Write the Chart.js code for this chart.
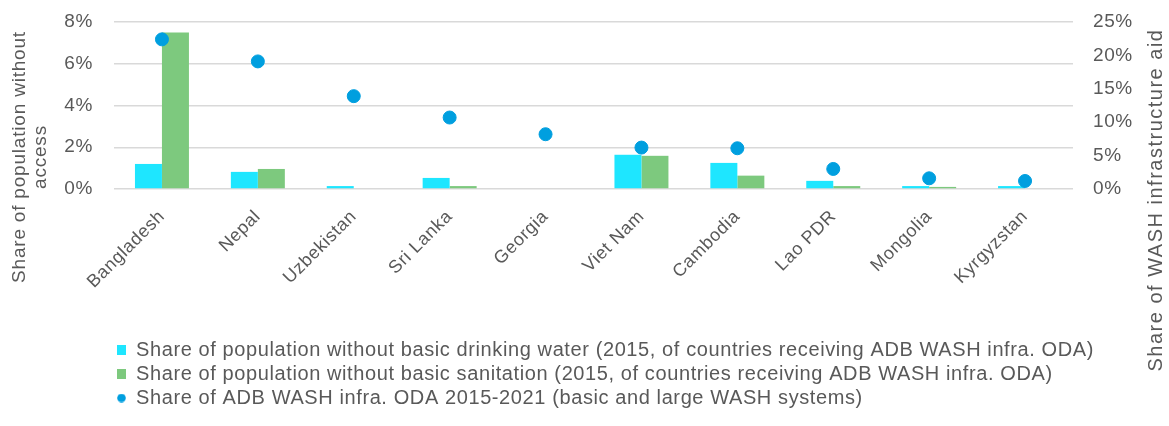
<!DOCTYPE html>
<html>
<head>
<meta charset="utf-8">
<script src="https://cdn.jsdelivr.net/npm/chart.js@4.4.1/dist/chart.umd.min.js"></script>
<style>
  html, body { margin: 0; padding: 0; background: #ffffff; }
  #wrap { width: 1169px; height: 426px; position: relative; }
</style>
</head>
<body>
<div id="wrap"><canvas id="c" width="1169" height="426"></canvas></div>
<script>
const categories = ["Bangladesh", "Nepal", "Uzbekistan", "Sri Lanka", "Georgia", "Viet Nam", "Cambodia", "Lao PDR", "Mongolia", "Kyrgyzstan"];
const drinkingWater = [1.20, 0.82, 0.14, 0.53, 0.00, 1.64, 1.25, 0.39, 0.14, 0.14];
const sanitation = [7.50, 0.96, 0.00, 0.14, 0.00, 1.59, 0.64, 0.14, 0.10, 0.00];
const odaShare = [22.4, 19.1, 13.9, 10.7, 8.2, 6.2, 6.1, 3.0, 1.6, 1.2];
const leftTicks = [0, 2, 4, 6, 8];
const rightTicks = [0, 5, 10, 15, 20, 25];
const seriesLabels = [
  "Share of population without basic drinking water (2015, of countries receiving ADB WASH infra. ODA)",
  "Share of population without basic sanitation (2015, of countries receiving ADB WASH infra. ODA)",
  "Share of ADB WASH infra. ODA 2015-2021 (basic and large WASH systems)"
];
const leftTitle = ["Share of population without", "access"];
const rightTitle = "Share of WASH infrastructure aid";

const FONT = "'Liberation Sans', Arial, sans-serif";
const TXT = "#595959";
const C_WATER = "#1EE6FF";
const C_SAN = "#7DC97E";
const C_ODA = "#009FDF";
const SPACING = '0.6px';

function markerCanvas(kind, color) {
  const cv = document.createElement('canvas');
  cv.width = 9; cv.height = kind === 'rect' ? 10 : 9;
  const g = cv.getContext('2d');
  g.fillStyle = color;
  if (kind === 'rect') g.fillRect(0, 0, 9, 10);
  else { g.beginPath(); g.arc(4.5, 4.5, 4.3, 0, Math.PI * 2); g.fill(); }
  return cv;
}
const markers = [markerCanvas('rect', C_WATER), markerCanvas('rect', C_SAN), markerCanvas('circle', C_ODA)];

const textSpacing = {
  id: 'textSpacing',
  beforeLayout(chart) { chart.ctx.letterSpacing = SPACING; },
  afterLayout(chart) { if (chart.legend) { chart.legend.left = 113; } },
  beforeDraw(chart) { chart.ctx.letterSpacing = SPACING; }
};

const axisTitles = {
  id: 'axisTitles',
  afterDraw(chart) {
    const ctx = chart.ctx;
    ctx.save();
    ctx.fillStyle = TXT;
    ctx.textAlign = 'center';
    ctx.textBaseline = 'middle';
    ctx.font = "19px " + FONT;
    ctx.letterSpacing = '0.8px';
    ctx.save();
    ctx.translate(20, 157);
    ctx.rotate(-Math.PI / 2);
    ctx.fillText(leftTitle[0], 0, 0);
    ctx.fillText(leftTitle[1], 0, 21);
    ctx.restore();
    ctx.font = "20px " + FONT;
    ctx.letterSpacing = '1.5px';
    ctx.save();
    ctx.translate(1156, 200);
    ctx.rotate(-Math.PI / 2);
    ctx.fillText(rightTitle, 0, 0);
    ctx.restore();
    ctx.restore();
  }
};

new Chart(document.getElementById('c'), {
  type: 'bar',
  data: {
    labels: categories,
    datasets: [
      { type: 'bar', label: seriesLabels[0], data: drinkingWater, backgroundColor: C_WATER, yAxisID: 'y', order: 2,
        categoryPercentage: 0.563, barPercentage: 1.0 },
      { type: 'bar', label: seriesLabels[1], data: sanitation, backgroundColor: C_SAN, yAxisID: 'y', order: 2,
        categoryPercentage: 0.563, barPercentage: 1.0 },
      { type: 'line', label: seriesLabels[2], data: odaShare, showLine: false, yAxisID: 'y1', order: 1,
        pointRadius: 6.5, pointHoverRadius: 6.5, pointBackgroundColor: C_ODA, pointBorderColor: C_ODA, borderColor: C_ODA, backgroundColor: C_ODA }
    ]
  },
  options: {
    responsive: false,
    animation: false,
    devicePixelRatio: 1,
    layout: { padding: { left: 0, right: 0, top: 22, bottom: 8 } },
    plugins: {
      tooltip: { enabled: false },
      legend: {
        position: 'bottom',
        align: 'start',
        labels: {
          color: TXT,
          font: { family: FONT, size: 20 },
          usePointStyle: true,
          boxWidth: 9,
          boxHeight: 10,
          padding: 4,
          generateLabels(chart) {
            return chart.data.datasets.map((ds, i) => ({
              text: ds.label,
              fillStyle: [C_WATER, C_SAN, C_ODA][i],
              strokeStyle: 'transparent',
              lineWidth: 0,
              pointStyle: markers[i],
              hidden: false,
              datasetIndex: i,
              fontColor: TXT
            }));
          }
        }
      }
    },
    scales: {
      x: {
        grid: { display: false },
        border: { display: false },
        ticks: { color: TXT, font: { family: FONT, size: 18 }, minRotation: 45, maxRotation: 45, autoSkip: false, padding: 9 },
        afterFit(scale) { scale.paddingLeft = 0; scale.paddingRight = 0; scale.height = 147; }
      },
      y: {
        position: 'left',
        min: 0, max: 8,
        afterBuildTicks(scale) { scale.ticks = leftTicks.map(v => ({ value: v })); },
        grid: { color: '#D9D9D9', lineWidth: 1.5, drawTicks: false },
        border: { display: false },
        ticks: { color: TXT, font: { family: FONT, size: 19 }, padding: 21, callback: v => v + '%' },
        afterFit(scale) { scale.width = 114; scale.paddingTop = 0; scale.paddingBottom = 0; }
      },
      y1: {
        position: 'right',
        min: 0, max: 25,
        afterBuildTicks(scale) { scale.ticks = rightTicks.map(v => ({ value: v })); },
        grid: { display: false, drawTicks: false },
        border: { display: false },
        ticks: { color: TXT, font: { family: FONT, size: 19 }, padding: 20, callback: v => v + '%' },
        afterFit(scale) { scale.width = 96; scale.paddingTop = 0; scale.paddingBottom = 0; }
      }
    }
  },
  plugins: [textSpacing, axisTitles]
});
</script>
</body>
</html>
